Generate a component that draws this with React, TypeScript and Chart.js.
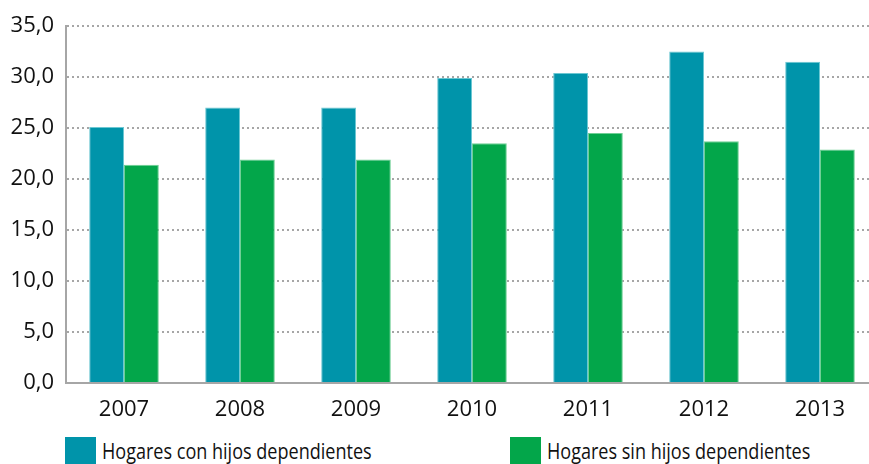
import React, { useEffect, useRef } from "react";
import { Chart, registerables } from "chart.js";

Chart.register(...registerables);

const years = ["2007", "2008", "2009", "2010", "2011", "2012", "2013"];
const conHijos = [25.1, 27.0, 27.0, 29.9, 30.4, 32.5, 31.5];
const sinHijos = [21.4, 21.9, 21.9, 23.5, 24.5, 23.7, 22.9];
const seriesNames = ["Hogares con hijos dependientes", "Hogares sin hijos dependientes"];
const seriesColors = ["#0094AA", "#03A64A"];
const seriesBorders = ["#6cc7d2", "#6fcf95"];

export default function App() {
  const ref = useRef<HTMLCanvasElement | null>(null);

  useEffect(() => {
    const canvas = ref.current;
    if (!canvas) return;
    const chart = new Chart(canvas, {
      type: "bar",
      data: {
        labels: years,
        datasets: [
          {
            label: seriesNames[0],
            data: conHijos,
            backgroundColor: seriesColors[0],
            borderColor: seriesBorders[0],
            borderWidth: 1,
          },
          {
            label: seriesNames[1],
            data: sinHijos,
            backgroundColor: seriesColors[1],
            borderColor: seriesBorders[1],
            borderWidth: 1,
          },
        ],
      },
      options: {
        responsive: false,
        animation: false,
        events: [],
        layout: { padding: { top: 26, right: 12, left: 0, bottom: 0 } },
        datasets: { bar: { categoryPercentage: 0.6, barPercentage: 1.0 } },
        plugins: {
          legend: { display: false },
          tooltip: { enabled: false },
        },
        scales: {
          x: {
            grid: { display: false, drawTicks: false },
            border: { display: true, color: "#a6a6a6", width: 2 },
            ticks: {
              color: "#111111",
              padding: 14,
              font: { family: "'Open Sans'", size: 22 },
            },
            afterFit: (s: any) => {
              s.height = 37;
            },
          },
          y: {
            min: 0,
            max: 35,
            grid: {
              color: "#a6a6a6",
              lineWidth: 2,
              drawTicks: false,
            },
            border: { display: true, color: "#a6a6a6", width: 2, dash: [2, 3] },
            ticks: {
              stepSize: 5,
              color: "#111111",
              padding: 12,
              font: { family: "'Open Sans'", size: 22 },
              callback: (v: any) => Number(v).toFixed(1).replace(".", ","),
            },
            afterFit: (s: any) => {
              s.width = 66;
            },
          },
        },
      },
    });
    return () => chart.destroy();
  }, []);

  const legendItem = (i: number, left: number) => (
    <div
      key={i}
      style={{
        position: "absolute",
        left,
        top: 437,
        display: "flex",
        alignItems: "flex-start",
      }}
    >
      <div style={{ width: 31, height: 30, background: seriesColors[i] }} />
      <div
        style={{
          marginLeft: 6,
          marginTop: -1,
          fontFamily: "'Open Sans'",
          fontSize: 22,
          lineHeight: "28px",
          color: "#111111",
          whiteSpace: "nowrap",
          transform: "scaleX(0.82)",
          transformOrigin: "left center",
        }}
      >
        {seriesNames[i]}
      </div>
    </div>
  );

  return (
    <div
      style={{
        position: "fixed",
        left: 0,
        top: 0,
        width: 869,
        height: 464,
        overflow: "hidden",
        background: "#ffffff",
      }}
    >
      <canvas ref={ref} width={890} height={420} style={{ position: "absolute", left: 0, top: 0 }} />
      {legendItem(0, 65)}
      {legendItem(1, 510)}
    </div>
  );
}
